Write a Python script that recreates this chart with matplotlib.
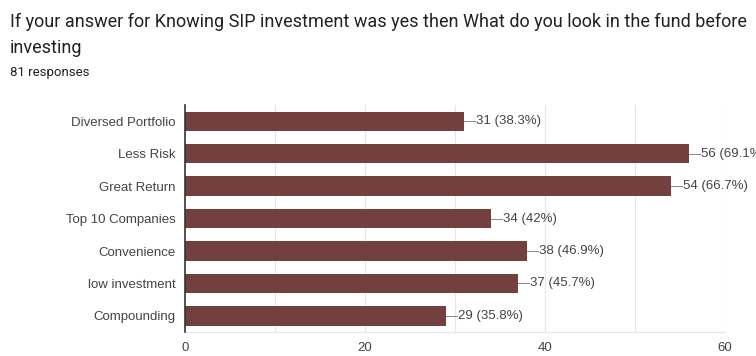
import matplotlib
matplotlib.use('Agg')
import matplotlib.pyplot as plt

# survey answers, top to bottom
categories = ['Diversed Portfolio', 'Less Risk', 'Great Return', 'Top 10 Companies',
              'Convenience', 'low investment', 'Compounding']
counts = [31, 56, 54, 34, 38, 37, 29]
percents = ['38.3%', '69.1%', '66.7%', '42%', '46.9%', '45.7%', '35.8%']
xticks = [0, 20, 40, 60]

bar_color = '#74403f'
text_gray = '#444444'

fig = plt.figure(figsize=(7.56, 3.56), dpi=100)
fig.text(0.013, 0.937, 'If your answer for Knowing SIP investment was yes then What do you look in the fund before',
         fontsize=13, family='Roboto', color='#202124', va='center')
fig.text(0.013, 0.866, 'investing', fontsize=13, family='Roboto', color='#202124', va='center')
fig.text(0.013, 0.797, '81 responses', fontsize=9.5, family='Roboto', color='#202124', va='center')

ax = fig.add_axes([0.245, 0.067, 0.714, 0.638])
ypos = list(range(len(categories)))
ax.barh(ypos, counts, height=0.6, color=bar_color, zorder=3)
ax.set_ylim(len(categories) - 0.5, -0.5)
ax.set_xlim(0, 60)

ax.set_yticks(ypos)
ax.set_yticklabels(categories, family='Liberation Sans', fontsize=9.5, color=text_gray)
ax.set_xticks(xticks)
ax.set_xticklabels([str(t) for t in xticks], family='Liberation Sans', fontsize=9.5, color=text_gray)
ax.tick_params(axis='both', length=0)
ax.tick_params(axis='y', pad=7)
ax.tick_params(axis='x', pad=7)

# light vertical grid every 10
for g in range(10, 61, 10):
    ax.axvline(g, color='#e6e6e6', lw=0.8, zorder=1)

for side in ['top', 'right']:
    ax.spines[side].set_visible(False)
ax.spines['bottom'].set_color('#e6e6e6')
ax.spines['bottom'].set_linewidth(0.8)
ax.spines['left'].set_color('#333333')
ax.spines['left'].set_linewidth(1.2)
ax.spines['left'].set_zorder(4)

# value labels with a short leader line
for y, c, p in zip(ypos, counts, percents):
    ax.plot([c, c + 1.2], [y, y], color='#888888', lw=0.7, zorder=3, clip_on=False)
    ax.text(c + 1.3, y, f'{c} ({p})', va='center', ha='left', fontsize=9.5,
            family='Liberation Sans', color=text_gray, clip_on=False)

fig.savefig('out.png', dpi=100)
